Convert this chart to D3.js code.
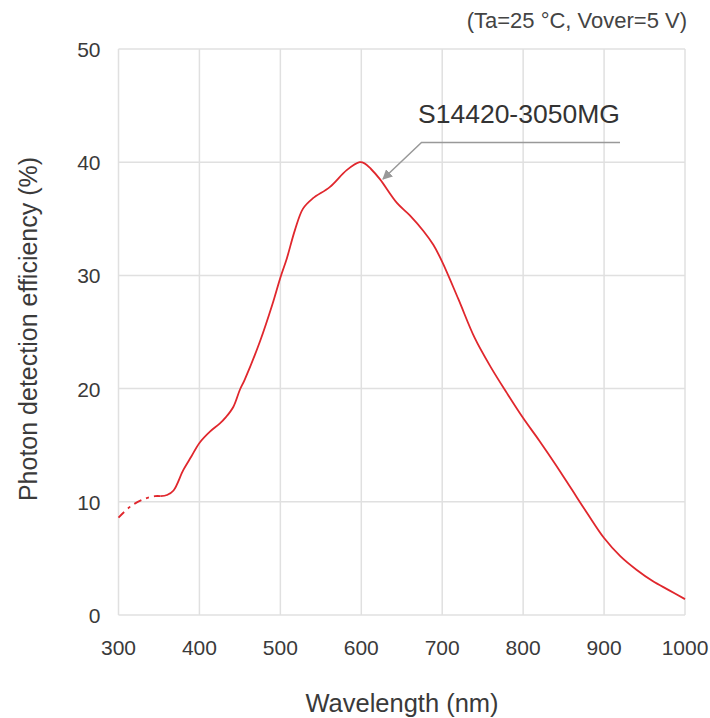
<!DOCTYPE html>
<meta charset="utf-8">
<script src="https://d3js.org/d3.v7.min.js"></script>
<style>
  body { margin: 0; background: #fff; }
  text { font-family: "Liberation Sans", Arial, Helvetica, sans-serif; }
</style>
<div id="my_dataviz"></div>
<script>

// wavelength (nm) and PDE (%)
const dashedWl  = [300, 315, 330, 345, 352];
const dashedPde = [8.6, 9.6, 10.2, 10.5, 10.5];

const wavelength = [352, 360, 368, 380, 390, 400, 413, 425, 433, 442, 450, 456, 475, 490, 500, 508, 518, 528, 540, 561, 582, 598, 604, 612, 623, 644, 660, 677, 689, 700, 720, 740, 760, 780, 800, 820, 840, 860, 880, 900, 920, 940, 960, 980, 1000];
const pde        = [10.5, 10.6, 11.0, 12.8, 14.0, 15.2, 16.2, 16.9, 17.5, 18.4, 19.9, 20.8, 24.2, 27.4, 29.8, 31.5, 34.0, 35.9, 36.8, 37.8, 39.3, 40.0, 39.9, 39.4, 38.5, 36.4, 35.3, 33.9, 32.7, 31.2, 27.9, 24.5, 21.9, 19.6, 17.4, 15.4, 13.3, 11.1, 8.9, 6.8, 5.2, 4.0, 3.0, 2.2, 1.4];

const xTicks = [300, 400, 500, 600, 700, 800, 900, 1000];
const yTicks = [0, 10, 20, 30, 40, 50];
const seriesName = "S14420-3050MG";
const condition = "(Ta=25 °C, Vover=5 V)";

var margin = {top: 49, right: 25, bottom: 104, left: 118.5};

var root = d3.select("#my_dataviz")
  .append("svg")
    .attr("width", 710)
    .attr("height", 718);

var svg = root.append("g")
    .attr("transform", "translate(" + margin.left + "," + margin.top + ")");

var x = d3.scaleLinear().domain([300, 1000]).range([0, 566.5]);
var y = d3.scaleLinear().domain([0, 50]).range([566, 0]);

// grid
svg.append("g").selectAll("line.v")
  .data(xTicks).enter().append("line")
    .attr("x1", d => x(d)).attr("x2", d => x(d))
    .attr("y1", 0).attr("y2", y(0))
    .attr("stroke", "#e0e0e0").attr("stroke-width", 1.5);
svg.append("g").selectAll("line.h")
  .data(yTicks).enter().append("line")
    .attr("x1", 0).attr("x2", x(1000))
    .attr("y1", d => y(d)).attr("y2", d => y(d))
    .attr("stroke", "#e0e0e0").attr("stroke-width", 1.5);

// tick labels
svg.append("g").selectAll("text")
  .data(xTicks).enter().append("text")
    .attr("x", d => x(d)).attr("y", y(0) + 40)
    .attr("text-anchor", "middle")
    .attr("font-size", 21).attr("fill", "#3a3a3a")
    .text(d => d);
svg.append("g").selectAll("text")
  .data(yTicks).enter().append("text")
    .attr("x", -18).attr("y", d => y(d) + 8)
    .attr("text-anchor", "end")
    .attr("font-size", 21).attr("fill", "#3a3a3a")
    .text(d => d);

// axis titles
root.append("text")
  .attr("x", 402).attr("y", 712)
  .attr("text-anchor", "middle")
  .attr("font-size", 25.5).attr("fill", "#3a3a3a")
  .text("Wavelength (nm)");
root.append("text")
  .attr("transform", "translate(37,329) rotate(-90)")
  .attr("text-anchor", "middle")
  .attr("font-size", 25).attr("fill", "#3a3a3a")
  .text("Photon detection efficiency (%)");
root.append("text")
  .attr("x", 687).attr("y", 28)
  .attr("text-anchor", "end")
  .attr("font-size", 22).attr("fill", "#444")
  .text(condition);

// curve
var line = d3.line()
  .x(d => x(d[0]))
  .y(d => y(d[1]))
  .curve(d3.curveCatmullRom.alpha(0.5));

svg.append("path")
  .datum(d3.zip(dashedWl, dashedPde))
  .attr("fill", "none")
  .attr("stroke", "#e0272d")
  .attr("stroke-width", 1.8)
  .attr("stroke-dasharray", "8,5,3,5")
  .attr("d", line);

svg.append("path")
  .datum(d3.zip(wavelength, pde))
  .attr("fill", "none")
  .attr("stroke", "#e0272d")
  .attr("stroke-width", 1.8)
  .attr("d", line);

// annotation
root.append("defs").append("marker")
  .attr("id", "arr")
  .attr("viewBox", "0 0 10 10")
  .attr("refX", 9).attr("refY", 5)
  .attr("markerWidth", 10).attr("markerHeight", 10)
  .attr("markerUnits", "userSpaceOnUse")
  .attr("orient", "auto")
  .append("path").attr("d", "M0,0 L10,5 L0,10 Z").attr("fill", "#999");

root.append("path")
  .attr("d", "M620,142.5 L421.5,142.5 L383,179")
  .attr("fill", "none")
  .attr("stroke", "#999")
  .attr("stroke-width", 1.5)
  .attr("marker-end", "url(#arr)");

root.append("text")
  .attr("x", 418).attr("y", 123)
  .attr("font-size", 26.5).attr("fill", "#333")
  .text(seriesName);

</script>
